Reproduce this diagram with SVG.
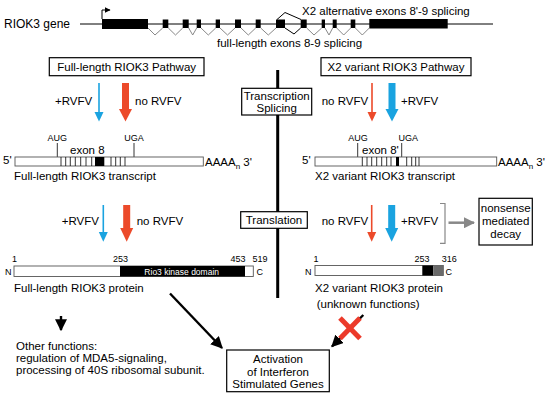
<svg xmlns="http://www.w3.org/2000/svg" width="550" height="401" viewBox="0 0 550 401">
<style>
text{font-family:"Liberation Sans",Arial,sans-serif;fill:#000}
.t{font-size:11.5px}
.s{font-size:9px}
.m{font-size:12px}
.box{fill:#fff;stroke:#000;stroke-width:1.2}
.tbox{fill:#fff;stroke:#555;stroke-width:0.9}
.tick{stroke:#000;stroke-width:0.8}
.sp{fill:none;stroke:#888;stroke-width:1}
.blk{fill:#000}
.blue{fill:#1aa3e0}
.red{fill:#ec4a2a}
.bl{stroke:#1aa3e0;stroke-width:1.6}
.rl{stroke:#ec4a2a;stroke-width:1.6}
.ar{stroke:#000;stroke-width:2.4;fill:none}
</style>
<defs>
<marker id="ah" viewBox="0 0 10 10" refX="9" refY="5" markerWidth="5" markerHeight="5" markerUnits="strokeWidth" orient="auto"><path d="M0,0 L10,5 L0,10 z" fill="#000"/></marker>
<marker id="ahg" viewBox="0 0 10 10" refX="9" refY="5" markerWidth="4.5" markerHeight="4.5" markerUnits="strokeWidth" orient="auto"><path d="M0,0 L10,5 L0,10 z" fill="#888"/></marker>
<marker id="ahs" viewBox="0 0 10 10" refX="9" refY="5" markerWidth="6" markerHeight="6" orient="auto"><path d="M0,0 L10,5 L0,10 z" fill="#000"/></marker>
</defs>

<g id="gene">
<text class="m" x="4" y="28">RIOK3 gene</text>
<line x1="80" y1="24" x2="493" y2="24" stroke="#000" stroke-width="1"/>
<polyline points="102,19 102,10 110,10" fill="none" stroke="#000" stroke-width="1" marker-end="url(#ahs)"/>
<rect class="blk" x="102" y="19" width="46" height="10"/>
<rect class="blk" x="162.7" y="19.5" width="5.6" height="8.5"/>
<rect class="blk" x="182.7" y="19.5" width="6" height="8.5"/>
<rect class="blk" x="196.7" y="19.5" width="4.3" height="8.5"/>
<rect class="blk" x="215.7" y="19.5" width="4.3" height="8.5"/>
<rect class="blk" x="235" y="19.5" width="6" height="8.5"/>
<rect class="blk" x="255.7" y="19.5" width="5" height="8.5"/>
<rect class="blk" x="276" y="19.5" width="9" height="8.5"/>
<rect class="blk" x="300.7" y="19.5" width="6" height="8.5"/>
<rect class="blk" x="321.7" y="19.5" width="3.3" height="8.5"/>
<rect class="blk" x="332.7" y="19.5" width="4" height="8.5"/>
<rect class="blk" x="350.7" y="19.5" width="4.6" height="8.5"/>
<rect class="blk" x="369.3" y="19" width="78.4" height="9.5"/>
<polyline class="sp" points="148,28 155,35 162.7,28"/>
<polyline class="sp" points="168.3,28 175.5,35 182.7,28"/>
<polyline class="sp" points="188.7,28 192.7,35 196.7,28"/>
<polyline class="sp" points="201,28 208.3,35 215.7,28"/>
<polyline class="sp" points="220,28 227.5,35 235,28"/>
<polyline class="sp" points="241,28 248.3,35 255.7,28"/>
<polyline class="sp" points="260.7,28 268.3,35 276,28"/>
<polyline points="285,28 294,34 300.7,28" fill="none" stroke="#000" stroke-width="1"/>
<polyline points="277,19.5 285,12.5 301,19.5" fill="none" stroke="#000" stroke-width="1"/>
<polyline class="sp" points="306.7,28 314,35 321.7,28"/>
<polyline class="sp" points="325,28 329,35 332.7,28"/>
<polyline class="sp" points="336.7,28 343.7,35 350.7,28"/>
<polyline class="sp" points="355.3,28 362.3,35 369.3,28"/>
<text class="t" x="302" y="15">X2 alternative exons 8'-9 splicing</text>
<text class="t" x="217" y="46.5">full-length exons 8-9 splicing</text>
</g>

<g id="center-line">
<line x1="277.7" y1="70" x2="277.7" y2="298" stroke="#000" stroke-width="3"/>
</g>

<g id="fl-pathway">
<rect class="box" x="49.3" y="57.7" width="154.7" height="18" stroke-width="0.9" stroke="#444"/>
<text class="t" x="126.7" y="71" text-anchor="middle">Full-length RIOK3 Pathway</text>
</g>
<g id="x2-pathway">
<rect class="box" x="321" y="57.7" width="150" height="18" stroke-width="0.9" stroke="#444"/>
<text class="t" x="396" y="71" text-anchor="middle">X2 variant RIOK3 Pathway</text>
</g>

<g id="transcription-box">
<rect class="box" x="241.7" y="88.3" width="70" height="26.7"/>
<text class="t" x="276.7" y="100" text-anchor="middle">Transcription</text>
<text class="t" x="276.7" y="111.7" text-anchor="middle">Splicing</text>
</g>
<g id="translation-box">
<rect class="box" x="240.7" y="211.7" width="66.6" height="16.6"/>
<text class="t" x="274" y="224" text-anchor="middle">Translation</text>
</g>

<g id="arrows-top-left">
<text class="t" x="55" y="105">+RVFV</text>
<line class="bl" x1="99" y1="83" x2="99" y2="114"/>
<polygon class="blue" points="94.5,112 103.5,112 99,121.5"/>
<rect class="red" x="122" y="83" width="7" height="27"/>
<polygon class="red" points="119,109 132,109 125.5,121.5"/>
<text class="t" x="135" y="105">no RVFV</text>
</g>
<g id="arrows-top-right">
<text class="t" x="321.7" y="105">no RVFV</text>
<line class="rl" x1="372" y1="83" x2="372" y2="114"/>
<polygon class="red" points="367.5,112 376.5,112 372,121.5"/>
<rect class="blue" x="388.5" y="83" width="7" height="27"/>
<polygon class="blue" points="385.5,109 398.5,109 392,121.5"/>
<text class="t" x="401" y="105">+RVFV</text>
</g>

<g id="fl-transcript">
<text class="s" x="57.3" y="141" text-anchor="middle">AUG</text>
<line class="tick" x1="57.3" y1="143" x2="57.3" y2="157"/>
<text class="s" x="134" y="141" text-anchor="middle">UGA</text>
<line class="tick" x1="134" y1="143" x2="134" y2="157"/>
<text class="t" x="70" y="154">exon 8</text>
<text class="t" x="3" y="164">5'</text>
<rect class="tbox" x="15" y="157" width="188.3" height="9"/>
<g class="tick">
<line x1="61" y1="157" x2="61" y2="166"/><line x1="65.7" y1="157" x2="65.7" y2="166"/><line x1="70.3" y1="157" x2="70.3" y2="166"/><line x1="75.3" y1="157" x2="75.3" y2="166"/><line x1="80.7" y1="157" x2="80.7" y2="166"/><line x1="86" y1="157" x2="86" y2="166"/><line x1="91.7" y1="157" x2="91.7" y2="166"/>
<line x1="111" y1="157" x2="111" y2="166"/><line x1="115.7" y1="157" x2="115.7" y2="166"/><line x1="120.3" y1="157" x2="120.3" y2="166"/><line x1="125" y1="157" x2="125" y2="166"/>
</g>
<rect class="blk" x="95" y="157" width="9.3" height="9"/>
<text class="t" x="205" y="166">AAAA<tspan font-size="8" dy="3">n</tspan><tspan dy="-3"> 3'</tspan></text>
<text class="t" x="14" y="180">Full-length RIOK3 transcript</text>
</g>

<g id="x2-transcript">
<text class="s" x="358" y="141" text-anchor="middle">AUG</text>
<line class="tick" x1="357.7" y1="143" x2="357.7" y2="157"/>
<text class="s" x="408.3" y="141" text-anchor="middle">UGA</text>
<line class="tick" x1="401.7" y1="143" x2="401.7" y2="157"/>
<text class="t" x="362" y="154">exon 8'</text>
<text class="t" x="302" y="164">5'</text>
<rect class="tbox" x="315" y="157" width="181.7" height="9"/>
<g class="tick">
<line x1="362.3" y1="157" x2="362.3" y2="166"/><line x1="367" y1="157" x2="367" y2="166"/><line x1="371.7" y1="157" x2="371.7" y2="166"/><line x1="376.7" y1="157" x2="376.7" y2="166"/><line x1="381.7" y1="157" x2="381.7" y2="166"/><line x1="386.7" y1="157" x2="386.7" y2="166"/><line x1="391" y1="157" x2="391" y2="166"/>
<line x1="406.7" y1="157" x2="406.7" y2="166"/><line x1="411.7" y1="157" x2="411.7" y2="166"/><line x1="415.7" y1="157" x2="415.7" y2="166"/><line x1="419" y1="157" x2="419" y2="166"/>
</g>
<rect class="blk" x="396" y="157" width="3" height="9"/>
<text class="t" x="498" y="166">AAAA<tspan font-size="8" dy="3">n</tspan><tspan dy="-3"> 3'</tspan></text>
<text class="t" x="315" y="180">X2 variant RIOK3 transcript</text>
</g>

<g id="arrows-mid-left">
<text class="t" x="61.7" y="225">+RVFV</text>
<line class="bl" x1="103.3" y1="205" x2="103.3" y2="234"/>
<polygon class="blue" points="98.8,232 107.8,232 103.3,241.7"/>
<rect class="red" x="123.2" y="205" width="7" height="24"/>
<polygon class="red" points="120.2,228 133.2,228 126.7,241.7"/>
<text class="t" x="136.7" y="225">no RVFV</text>
</g>
<g id="arrows-mid-right">
<text class="t" x="321.7" y="225">no RVFV</text>
<line class="rl" x1="371.7" y1="205" x2="371.7" y2="234"/>
<polygon class="red" points="367.2,232 376.2,232 371.7,241.7"/>
<rect class="blue" x="388.2" y="205" width="7" height="24"/>
<polygon class="blue" points="385.2,228 398.2,228 391.7,241.7"/>
<text class="t" x="401" y="225">+RVFV</text>
<polyline points="440,203.5 445,203.5 445,243.3 440,243.3" fill="none" stroke="#888" stroke-width="1.2"/>
<line x1="448.5" y1="222.7" x2="474" y2="222.7" stroke="#888" stroke-width="2.5" marker-end="url(#ahg)"/>
</g>

<g id="nmd">
<rect class="box" x="479" y="198.3" width="53.3" height="46.7"/>
<text class="t" x="505.7" y="211.7" text-anchor="middle">nonsense</text>
<text class="t" x="505.7" y="225" text-anchor="middle">mediated</text>
<text class="t" x="505.7" y="238.3" text-anchor="middle">decay</text>
</g>

<g id="fl-protein">
<text class="s" x="12" y="261.5">1</text>
<text class="s" x="120.5" y="261.5" text-anchor="middle">253</text>
<text class="s" x="238" y="261.5" text-anchor="middle">453</text>
<text class="s" x="260" y="261.5" text-anchor="middle">519</text>
<text class="s" x="5" y="275">N</text>
<rect class="tbox" x="14" y="266" width="239.3" height="10.5"/>
<rect class="blk" x="120" y="266" width="125" height="10.5"/>
<text x="181.7" y="274.5" text-anchor="middle" font-size="8.5" style="fill:#fff">Rio3 kinase domain</text>
<text class="s" x="256.5" y="275">C</text>
<text class="t" x="14" y="291.7">Full-length RIOK3 protein</text>
</g>

<g id="x2-protein">
<text class="s" x="313.5" y="261.5">1</text>
<text class="s" x="422" y="261.5" text-anchor="middle">253</text>
<text class="s" x="449.2" y="261.5" text-anchor="middle">316</text>
<text class="s" x="305" y="274.5">N</text>
<rect class="tbox" x="315" y="265.5" width="128.3" height="10"/>
<rect class="blk" x="422.3" y="265.5" width="11" height="10"/>
<rect x="433.3" y="265.5" width="10" height="10" fill="#6a6a6a"/>
<text class="s" x="445.5" y="274.5">C</text>
<text class="t" x="315" y="291.7">X2 variant RIOK3 protein</text>
<text class="t" x="316.7" y="308">(unknown functions)</text>
</g>

<g id="other-functions">
<text class="t" x="16" y="349.5">Other functions:</text>
<text class="t" x="16" y="361.5">regulation of MDA5-signaling,</text>
<text class="t" x="16" y="373.5">processing of 40S ribosomal subunit.</text>
</g>

<g id="isg">
<rect class="box" x="226.7" y="350" width="102.6" height="41.7"/>
<text class="t" x="278" y="363" text-anchor="middle">Activation</text>
<text class="t" x="278" y="375.5" text-anchor="middle">of Interferon</text>
<text class="t" x="278" y="388" text-anchor="middle">Stimulated Genes</text>
</g>

<g id="connectors">
<line class="ar" x1="61" y1="316" x2="61" y2="330" marker-end="url(#ah)"/>
<line class="ar" x1="170" y1="293.5" x2="222" y2="348" marker-end="url(#ah)"/>
<line class="ar" x1="363.3" y1="315" x2="332" y2="346.5" marker-end="url(#ah)"/>
<g stroke="#ec3a2a" stroke-width="5" stroke-linecap="butt">
<line x1="340" y1="318" x2="360" y2="338.5"/>
<line x1="360" y1="318" x2="340" y2="338.5"/>
</g>
</g>
</svg>
